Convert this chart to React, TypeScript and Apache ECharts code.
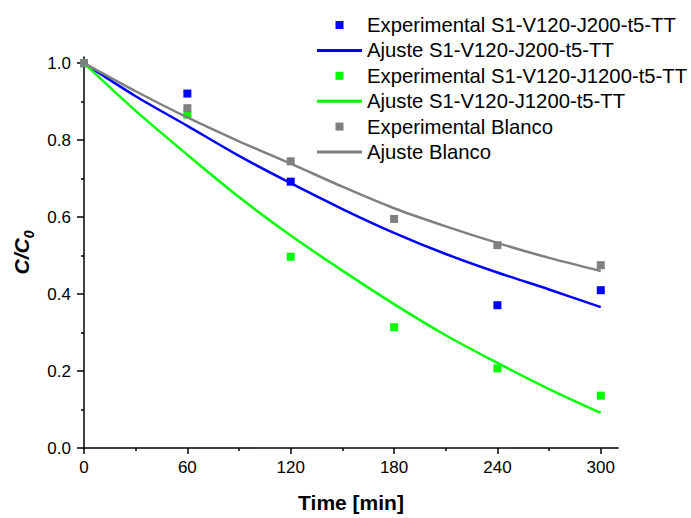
import React, { useEffect, useRef } from "react";
import * as echarts from "echarts";

const FONT = "'Liberation Sans', Arial, sans-serif";

// Experimental times
const expTimes = [0, 60, 120, 180, 240, 300];
const expS1J200 = [1.0, 0.921, 0.692, null, 0.371, 0.41];
const expS1J1200 = [1.0, 0.866, 0.497, 0.314, 0.207, 0.136];
const expBlanco = [1.0, 0.883, 0.745, 0.595, 0.527, 0.475];

// Fit curves
const fitTimes = [0, 30, 60, 90, 120, 150, 180, 210, 240, 270, 300];
const fitS1J200 = [1.0, 0.914, 0.837, 0.759, 0.688, 0.621, 0.559, 0.504, 0.456, 0.412, 0.366];
const fitS1J1200 = [1.0, 0.876, 0.762, 0.652, 0.552, 0.461, 0.374, 0.293, 0.221, 0.153, 0.091];
const fitBlanco = [1.0, 0.927, 0.859, 0.797, 0.739, 0.679, 0.623, 0.576, 0.533, 0.494, 0.46];

const xMajor = [0, 60, 120, 180, 240, 300];
const xMinor = [30, 90, 150, 210, 270];
const yMajor = [0, 0.2, 0.4, 0.6, 0.8, 1.0];
const yMinor = [0.1, 0.3, 0.5, 0.7, 0.9];

const names = [
  "Experimental S1-V120-J200-t5-TT",
  "Ajuste S1-V120-J200-t5-TT",
  "Experimental S1-V120-J1200-t5-TT",
  "Ajuste S1-V120-J1200-t5-TT",
  "Experimental Blanco",
  "Ajuste Blanco",
];

const BLUE = "#0000ff";
const GREEN = "#00ff00";
const GRAY = "#808080";

const pair = (xs: number[], ys: (number | null)[]) =>
  xs.map((x, i) => [x, ys[i]]).filter((p) => p[1] !== null);

export default function App() {
  const ref = useRef<HTMLDivElement>(null);
  useEffect(() => {
    if (!ref.current) return;
    const chart = echarts.init(ref.current, undefined, { renderer: "svg" });
    const axisLine = { show: true, lineStyle: { color: "#000", width: 1.5 } };
    const scatter = (name: string, data: any[], color: string) => ({
      name,
      type: "scatter",
      xAxisIndex: 0,
      yAxisIndex: 0,
      symbol: "rect",
      symbolSize: 8,
      itemStyle: { color, opacity: 1 },
      data,
    });
    const line = (name: string, data: any[], color: string) => ({
      name,
      type: "line",
      xAxisIndex: 0,
      yAxisIndex: 0,
      symbol: "none",
      showSymbol: false,
      smooth: 0.3,
      lineStyle: { color, width: 2.5 },
      itemStyle: { color },
      data,
    });
    const sq = "path://M0 0H10V10H0Z";
    const bar = "path://M0 0H45V3H0Z";
    chart.setOption({
      animation: false,
      grid: { left: 84, right: 73, top: 57, bottom: 66 },
      legend: {
        orient: "vertical",
        left: 317,
        top: 15,
        padding: 0,
        itemGap: 5.4,
        itemWidth: 45,
        itemHeight: 8,
        textStyle: { fontFamily: FONT, fontSize: 20.3, color: "#000" },
        data: [
          { name: names[0], icon: sq, itemStyle: { opacity: 1 } },
          { name: names[1], icon: bar },
          { name: names[2], icon: sq, itemStyle: { opacity: 1 } },
          { name: names[3], icon: bar },
          { name: names[4], icon: sq, itemStyle: { opacity: 1 } },
          { name: names[5], icon: bar },
        ],
      },
      xAxis: [
        {
          type: "value",
          min: 0,
          max: 310,
          position: "bottom",
          axisLine,
          splitLine: { show: false },
          axisTick: {
            show: true,
            customValues: xMajor,
            length: 6,
            lineStyle: { color: "#000", width: 1.5 },
          },
          axisLabel: {
            customValues: xMajor,
            margin: 11,
            fontFamily: FONT,
            fontSize: 17,
            color: "#000",
          },
          name: "Time [min]",
          nameLocation: "middle",
          nameGap: 44,
          nameTextStyle: {
            fontFamily: FONT,
            fontSize: 21,
            fontWeight: "bold",
            color: "#000",
          },
        },
        {
          type: "value",
          min: 0,
          max: 310,
          position: "bottom",
          offset: 0,
          axisLine: { show: false },
          splitLine: { show: false },
          axisLabel: { show: false },
          axisTick: {
            show: true,
            customValues: xMinor,
            length: 3,
            lineStyle: { color: "#000", width: 1.5 },
          },
        },
      ],
      yAxis: [
        {
          type: "value",
          min: 0,
          max: 1.016,
          position: "left",
          axisLine,
          splitLine: { show: false },
          axisTick: {
            show: true,
            customValues: yMajor,
            length: 7,
            lineStyle: { color: "#000", width: 1.5 },
          },
          axisLabel: {
            customValues: yMajor,
            margin: 13,
            fontFamily: FONT,
            fontSize: 17,
            color: "#000",
            formatter: (v: number) => v.toFixed(1),
          },
          name: "{a|C/C}{b|0}",
          nameLocation: "middle",
          nameGap: 47,
          nameRotate: 90,
          nameTextStyle: {
            rich: {
              a: {
                fontFamily: FONT,
                fontSize: 21,
                fontWeight: "bold",
                fontStyle: "italic",
                color: "#000",
                lineHeight: 26,
                verticalAlign: "bottom",
              },
              b: {
                fontFamily: FONT,
                fontSize: 14,
                fontWeight: "bold",
                fontStyle: "italic",
                color: "#000",
                lineHeight: 26,
                verticalAlign: "bottom",
                padding: [0, 0, -4, 0],
              },
            },
          },
        },
        {
          type: "value",
          min: 0,
          max: 1.016,
          position: "left",
          offset: 0,
          axisLine: { show: false },
          splitLine: { show: false },
          axisLabel: { show: false },
          axisTick: {
            show: true,
            customValues: yMinor,
            length: 3,
            lineStyle: { color: "#000", width: 1.5 },
          },
        },
      ],
      series: [
        scatter(names[0], pair(expTimes, expS1J200), BLUE),
        line(names[1], pair(fitTimes, fitS1J200), BLUE),
        scatter(names[2], pair(expTimes, expS1J1200), GREEN),
        line(names[3], pair(fitTimes, fitS1J1200), GREEN),
        scatter(names[4], pair(expTimes, expBlanco), GRAY),
        line(names[5], pair(fitTimes, fitBlanco), GRAY),
      ],
    });
    return () => chart.dispose();
  }, []);
  return <div ref={ref} style={{ width: 691, height: 518, position: "absolute", left: 0, top: 0 }} />;
}
